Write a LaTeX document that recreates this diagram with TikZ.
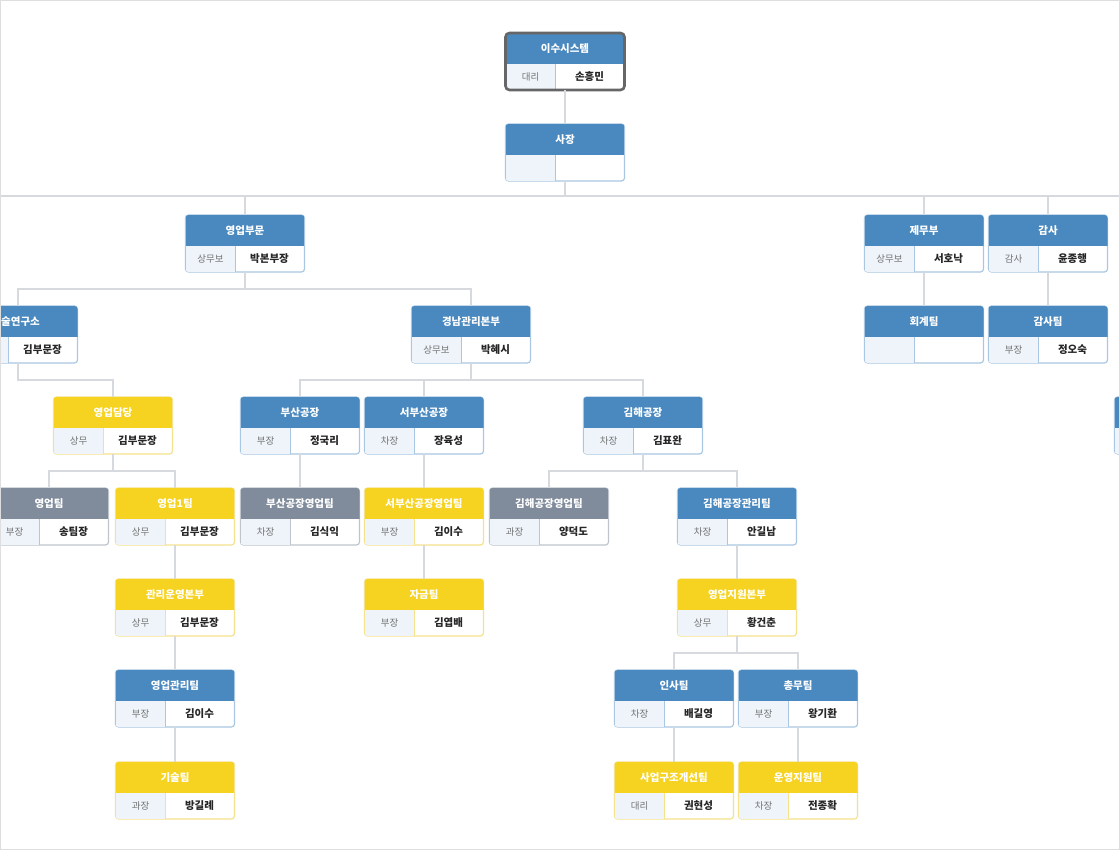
\documentclass[tikz,border=0pt]{standalone}
\usepackage{fontspec}
\newfontfamily\krfont{Noto Sans CJK KR}
\usetikzlibrary{calc}

\definecolor{headblue}{RGB}{74,137,191}
\definecolor{edgeblue}{RGB}{170,199,225}
\definecolor{headyellow}{RGB}{246,211,32}
\definecolor{edgeyellow}{RGB}{245,226,140}
\definecolor{headgray}{RGB}{128,140,156}
\definecolor{edgegray}{RGB}{190,197,205}
\definecolor{cellbg}{RGB}{238,244,250}
\definecolor{wirecol}{RGB}{214,218,223}
\definecolor{framecol}{RGB}{222,222,222}

\tikzset{
	unitbox/.style={rectangle, rounded corners=3pt, minimum width=119pt, minimum height=57pt, inner sep=0pt, outer sep=0pt, line width=1.2pt, fill=white},
	headtext/.style={text=white, font=\krfont\bfseries\fontsize{10.5}{11}\selectfont, inner sep=0pt},
	ranktext/.style={text=black!55, font=\krfont\fontsize{9.5}{10}\selectfont, inner sep=0pt},
	nametext/.style={text=black!85, font=\krfont\bfseries\fontsize{10.5}{11}\selectfont, inner sep=0pt},
	wire/.style={draw=wirecol, line width=1.3pt},
}

% name, centre, kind, title, rank, person
\newcommand{\orgunit}[6]{%
	\node[unitbox, draw=edge#3] (#1) at (#2) {};
	\begin{scope}
		\clip[rounded corners=3pt] (#1.south west) rectangle (#1.north east);
		\fill[head#3] (#1.north west) rectangle ([yshift=-31pt]#1.north east);
		\fill[cellbg] ([yshift=-31pt]#1.north west) rectangle ([xshift=50pt]#1.south west);
	\end{scope}
	\draw[edge#3, line width=0.6pt] ([xshift=50pt,yshift=-31pt]#1.north west) -- ([xshift=50pt]#1.south west);
	\node[headtext] (#1-t) at ([yshift=-15.5pt]#1.north) {#4};
	\node[ranktext] (#1-r) at ([xshift=25pt,yshift=13pt]#1.south west) {#5};
	\node[nametext] (#1-n) at ([xshift=-35pt,yshift=13pt]#1.south east) {#6};
}
\newcommand{\orglink}[2]{\draw[wire] (#1.south) -- ++(0,17) -| (#2.north);}

\begin{document}
\begin{tikzpicture}[x=1pt, y=-1pt]
	%%%%% START %%%%%
	\useasboundingbox (0,0) rectangle (1120,850);
	\clip (0,0) rectangle (1120,850);
	\fill[white] (0,0) rectangle (1120,850);
	
	\coordinate (busL) at (0,196);
	\coordinate (busR) at (1120,196);
	\draw[wire] (busL) -- (busR);
	
	% top
	\orgunit{firm}{565,61.5}{blue}{이수시스템}{대리}{손흥민}
	\draw[black!60, line width=2.6pt, rounded corners=4pt] (firm.south west) rectangle (firm.north east);
	\orgunit{ceo}{565,152.5}{blue}{사장}{}{}
	
	% second row
	\orgunit{sales}{245,243.5}{blue}{영업부문}{상무보}{박본부장}
	\orgunit{finance}{924,243.5}{blue}{제무부}{상무보}{서호낙}
	\orgunit{audit}{1048,243.5}{blue}{감사}{감사}{윤종행}
	
	\orgunit{lab}{18,334.5}{blue}{}{}{김부문장}
	\node[headtext, anchor=west] (lab-cut) at ([yshift=-15.5pt]lab.north -| 1,0) {술연구소};
	\orgunit{gyeongnam}{471,334.5}{blue}{경남관리본부}{상무보}{박혜시}
	\orgunit{accounting}{924,334.5}{blue}{회계팀}{}{}
	\orgunit{auditteam}{1048,334.5}{blue}{감사팀}{부장}{정오숙}
	
	\orgunit{salesmgmt}{113,425.5}{yellow}{영업담당}{상무}{김부문장}
	\orgunit{busan}{300,425.5}{blue}{부산공장}{부장}{정국리}
	\orgunit{wbusan}{424,425.5}{blue}{서부산공장}{차장}{장육성}
	\orgunit{gimhae}{643,425.5}{blue}{김해공장}{차장}{김표완}
	\orgunit{offright}{1174,425.5}{blue}{}{}{}
	
	\orgunit{salesteam}{49,516.5}{gray}{영업팀}{부장}{송팀장}
	\orgunit{salesone}{175,516.5}{yellow}{영업1팀}{상무}{김부문장}
	\orgunit{busansales}{300,516.5}{gray}{부산공장영업팀}{차장}{김식익}
	\orgunit{wbusansales}{424,516.5}{yellow}{서부산공장영업팀}{부장}{김이수}
	\orgunit{gimhaesales}{549,516.5}{gray}{김해공장영업팀}{과장}{양덕도}
	\orgunit{gimhaeadmin}{737,516.5}{blue}{김해공장관리팀}{차장}{안길남}
	
	\orgunit{opsdiv}{175,607.5}{yellow}{관리운영본부}{상무}{김부문장}
	\orgunit{funds}{424,607.5}{yellow}{자금팀}{부장}{김엽배}
	\orgunit{supportdiv}{737,607.5}{yellow}{영업지원본부}{상무}{황건춘}
	
	\orgunit{salesadmin}{175,698.5}{blue}{영업관리팀}{부장}{김이수}
	\orgunit{hr}{674,698.5}{blue}{인사팀}{차장}{배길영}
	\orgunit{general}{798,698.5}{blue}{총무팀}{부장}{왕기환}
	
	\orgunit{tech}{175,790.5}{yellow}{기술팀}{과장}{방길례}
	\orgunit{restructure}{674,790.5}{yellow}{사업구조개선팀}{대리}{권현성}
	\orgunit{opsupport}{798,790.5}{yellow}{운영지원팀}{차장}{전종확}
	
	% links
	\draw[wire] (firm) -- (ceo);
	\draw[wire] (ceo) -- (ceo |- busL);
	\draw[wire] (sales) -- (sales |- busL);
	\draw[wire] (finance) -- (finance |- busL);
	\draw[wire] (audit) -- (audit |- busL);
	\draw[wire] (finance) -- (accounting);
	\draw[wire] (audit) -- (auditteam);
	
	\orglink{sales}{lab}
	\orglink{sales}{gyeongnam}
	\orglink{lab}{salesmgmt}
	\orglink{gyeongnam}{busan}
	\orglink{gyeongnam}{wbusan}
	\orglink{gyeongnam}{gimhae}
	\orglink{salesmgmt}{salesteam}
	\orglink{salesmgmt}{salesone}
	\orglink{busan}{busansales}
	\orglink{wbusan}{wbusansales}
	\orglink{gimhae}{gimhaesales}
	\orglink{gimhae}{gimhaeadmin}
	\orglink{salesone}{opsdiv}
	\orglink{wbusansales}{funds}
	\orglink{gimhaeadmin}{supportdiv}
	\orglink{opsdiv}{salesadmin}
	\orglink{supportdiv}{hr}
	\orglink{supportdiv}{general}
	\orglink{salesadmin}{tech}
	\orglink{hr}{restructure}
	\orglink{general}{opsupport}
	
	\draw[framecol, line width=2pt] (0,0) rectangle (1120,850);
	%%%%% END %%%%%
\end{tikzpicture}
\end{document}
